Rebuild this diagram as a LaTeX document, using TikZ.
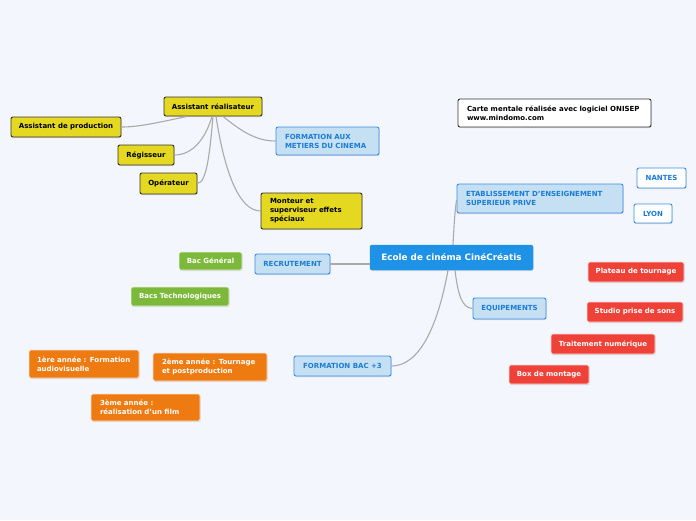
\documentclass[tikz,border=0pt]{standalone}
\usepackage{fontspec}
\setmainfont{DejaVu Sans}
\usetikzlibrary{shadows}
\definecolor{bgc}{RGB}{243,246,253}
\definecolor{yel}{RGB}{228,216,32}
\definecolor{topicfill}{RGB}{197,223,243}
\definecolor{topicline}{RGB}{58,142,230}
\definecolor{topictext}{RGB}{27,124,214}
\definecolor{central}{RGB}{30,146,230}
\definecolor{grn}{RGB}{124,185,58}
\definecolor{redc}{RGB}{238,66,56}
\definecolor{orc}{RGB}{238,122,18}
\definecolor{conn}{RGB}{170,170,170}
\tikzset{
  base/.style={rectangle, rounded corners=2pt, inner sep=0pt,
    font=\fontsize{7}{9}\selectfont\bfseries,
    drop shadow={shadow xshift=0.6pt, shadow yshift=-1pt, opacity=0.25}},
  yelbox/.style={base, fill=yel, draw=black!80, line width=0.9pt, text=black},
  topicbox/.style={base, fill=topicfill, draw=topicline, line width=0.9pt, text=topictext},
  cityb/.style={base, fill=white, draw=topicline, line width=0.9pt, text=topictext},
  notebox/.style={base, fill=white, draw=black!80, line width=0.9pt, text=black},
  centralbox/.style={base, fill=central, draw=central, text=white, font=\fontsize{8.8}{10}\selectfont\bfseries},
  grnbox/.style={base, fill=grn, draw=white!85!grn, line width=0.7pt, text=white},
  redbox/.style={base, fill=redc, draw=white!80!redc, line width=0.7pt, text=white},
  orbox/.style={base, fill=orc, draw=white!80!orc, line width=0.7pt, text=white},
  wh/.style 2 args={minimum width=#1pt, minimum height=#2pt},
  ml/.style={align=left, text width=#1pt, execute at begin node={\hyphenpenalty=10000\exhyphenpenalty=10000}},
  link/.style={draw=conn, line width=1.1pt},
}
\begin{document}
\begin{tikzpicture}[x=1pt,y=-1pt]
\fill[bgc] (0,0) rectangle (696,520);
\useasboundingbox (0,0) rectangle (696,520);

% yellow group
\node[yelbox, wh={98}{19}] (AR) at (213,106.5) {Assistant réalisateur};
\node[yelbox, wh={110}{20}] (AP) at (66,127) {Assistant de production};
\node[yelbox, wh={56}{20}] (REG) at (146,155) {Régisseur};
\node[yelbox, wh={57}{21}] (OP) at (168.5,183.5) {Opérateur};
\node[yelbox, wh={101}{36}, ml=83] (MON) at (311.5,211) {Monteur et\\superviseur effets\\spéciaux};
\node[topicbox, wh={103}{28}, ml=85] (FAM) at (327.5,141) {FORMATION AUX\\METIERS DU CINEMA};

% note
\node[notebox, wh={193}{28}, ml=175] (NOTE) at (554.5,113) {Carte mentale réalisée avec logiciel ONISEP\\www.mindomo.com};

% right top
\node[cityb, wh={49}{20}] (NAN) at (661.5,178) {NANTES};
\node[cityb, wh={38}{19}] (LYO) at (653,213.5) {LYON};
\node[topicbox, wh={166}{29}, ml=148] (ETAB) at (540,198.5) {ETABLISSEMENT D'ENSEIGNEMENT\\SUPERIEUR PRIVE};

% central
\node[centralbox, wh={163}{25}] (C) at (451.5,257.5) {Ecole de cinéma CinéCréatis};

% recrutement
\node[topicbox, wh={75}{20}] (REC) at (292.5,264) {RECRUTEMENT};
\node[grnbox, wh={63}{18}] (BG) at (210.5,261) {Bac Général};
\node[grnbox, wh={98}{19}] (BT) at (180,296.5) {Bacs Technologiques};

% equipements
\node[topicbox, wh={73}{21}] (EQ) at (509.5,308.5) {EQUIPEMENTS};
\node[redbox, wh={96}{20}] (PL) at (636,272) {Plateau de tournage};
\node[redbox, wh={96}{20}] (ST) at (635,312) {Studio prise de sons};
\node[redbox, wh={104}{20}] (TR) at (603,344) {Traitement numérique};
\node[redbox, wh={80}{19}] (BOX) at (549,374.5) {Box de montage};

% formation bac+3
\node[topicbox, wh={97}{20}] (B3) at (342.5,366) {FORMATION BAC +3};
\node[orbox, wh={110}{28}, ml=94] (Y1) at (84,364) {1ère année : Formation\\audiovisuelle};
\node[orbox, wh={114}{28}, ml=96] (Y2) at (210,367) {2ème année : Tournage\\et postproduction};
\node[orbox, wh={109}{27}, ml=91] (Y3) at (145.5,407.5) {3ème année :\\réalisation d'un film};

% connectors from central
\draw[link] ([xshift=1.5pt]C.north) .. controls (454,225) and (455,210) .. ([yshift=-1.5pt]ETAB.west);
\draw[link] ([xshift=3.5pt]C.south) .. controls (458,295) and (462,308) .. (EQ.west);
\draw[link] ([xshift=-3.5pt]C.south) .. controls (438,325) and (420,366) .. (B3.east);
\draw[link] ([yshift=-6.5pt]C.west) -- (REC.east);

% connectors from assistant realisateur
\draw[link] ([xshift=-26pt]AR.south) .. controls (160,122) and (140,127) .. (AP.east);
\draw[link] ([xshift=-1pt]AR.south) .. controls (205,140) and (192,155) .. (REG.east);
\draw[link] ([xshift=0pt]AR.south) .. controls (210,150) and (207,183) .. (OP.east);
\draw[link] ([xshift=3pt]AR.south) .. controls (225,175) and (240,211) .. (MON.west);
\draw[link] ([xshift=10pt]AR.south) .. controls (240,130) and (255,141) .. (FAM.west);
\end{tikzpicture}
\end{document}
